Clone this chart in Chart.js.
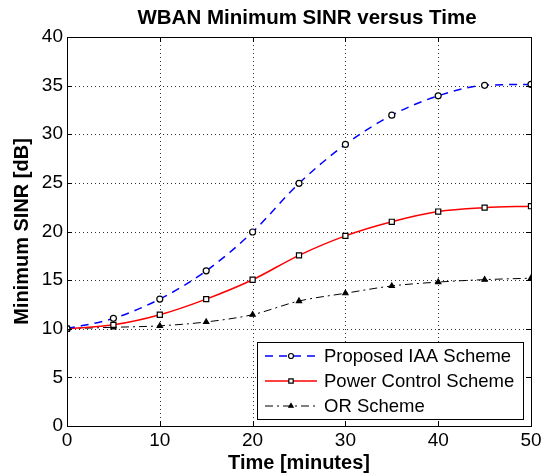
<!DOCTYPE html>
<html>
<head>
<meta charset="utf-8">
<script src="https://cdn.jsdelivr.net/npm/chart.js@4"></script>
<style>
  html, body { margin: 0; padding: 0; background: #fff; }
  #wrap { width: 549px; height: 475px; }
</style>
</head>
<body>
<div id="wrap"><canvas id="c" width="549" height="475"></canvas></div>
<script>
const timeMinutes = [0, 5, 10, 15, 20, 25, 30, 35, 40, 45, 50];
const proposedIAA = [10, 11.07, 13.05, 15.96, 19.95, 24.95, 28.95, 31.96, 33.95, 35.03, 35.12];
const powerControl = [10, 10.4, 11.44, 13.05, 15.04, 17.55, 19.55, 21.0, 22.05, 22.45, 22.6];
const orScheme = [10, 10.15, 10.3, 10.7, 11.45, 12.85, 13.65, 14.4, 14.8, 15.05, 15.2];
const seriesNames = ['Proposed IAA Scheme', 'Power Control Scheme', 'OR Scheme'];
const chartTitle = 'WBAN Minimum SINR versus Time';
const xTitle = 'Time [minutes]';
const yTitle = 'Minimum SINR [dB]';

const FONT = '"Liberation Sans", Arial, Helvetica, sans-serif';

function pts(ys) { return timeMinutes.map((x, i) => ({x: x, y: ys[i]})); }

const styles = [
  {color: '#0000ff', dash: [8, 6], width: 1.5, point: 'circle', r: 3, fill: '#fff'},
  {color: '#ff0000', dash: [], width: 1.5, point: 'rect', r: 3.6, fill: '#fff'},
  {color: '#000000', dash: [8, 4, 2, 4], width: 1, point: 'triangle', r: 3, fill: '#000'}
];
const allData = [proposedIAA, powerControl, orScheme];

const datasets = allData.map((d, i) => ({
  label: seriesNames[i],
  data: pts(d),
  borderColor: styles[i].color,
  borderWidth: styles[i].width,
  borderDash: styles[i].dash,
  cubicInterpolationMode: 'monotone',
  pointStyle: styles[i].point,
  pointRadius: styles[i].r,
  pointBorderColor: '#000',
  pointBorderWidth: 1.2,
  pointBackgroundColor: styles[i].fill,
  fill: false
}));

const gridPlugin = {
  id: 'gridPlugin',
  beforeDatasetsDraw(chart) {
    const ctx = chart.ctx;
    const a = chart.chartArea;
    const xs = chart.scales.x, ys = chart.scales.y;
    ctx.save();
    ctx.strokeStyle = 'rgba(0,0,0,0.8)';
    ctx.lineWidth = 1;
    ctx.setLineDash([1, 3]);
    ctx.beginPath();
    xs.ticks.forEach(t => {
      const px = Math.round(xs.getPixelForValue(t.value)) + 0.5;
      ctx.moveTo(px, a.bottom); ctx.lineTo(px, a.top);
    });
    ys.ticks.forEach(t => {
      const py = Math.round(ys.getPixelForValue(t.value)) + 0.5;
      ctx.moveTo(a.left, py); ctx.lineTo(a.right, py);
    });
    ctx.stroke();
    ctx.restore();
  }
};

const boxPlugin = {
  id: 'boxPlugin',
  afterDraw(chart) {
    const ctx = chart.ctx;
    const a = chart.chartArea;
    const xs = chart.scales.x, ys = chart.scales.y;
    ctx.save();
    ctx.strokeStyle = '#000';
    ctx.lineWidth = 1;
    ctx.setLineDash([]);
    ctx.strokeRect(Math.round(a.left) + 0.5, Math.round(a.top) + 0.5, Math.round(a.right - a.left), Math.round(a.bottom - a.top));
    const L = 5;
    ctx.beginPath();
    xs.ticks.forEach(t => {
      const px = Math.round(xs.getPixelForValue(t.value)) + 0.5;
      ctx.moveTo(px, a.bottom); ctx.lineTo(px, a.bottom - L);
      ctx.moveTo(px, a.top); ctx.lineTo(px, a.top + L);
    });
    ys.ticks.forEach(t => {
      const py = Math.round(ys.getPixelForValue(t.value)) + 0.5;
      ctx.moveTo(a.left, py); ctx.lineTo(a.left + L, py);
      ctx.moveTo(a.right, py); ctx.lineTo(a.right - L, py);
    });
    ctx.stroke();

    // Title
    ctx.fillStyle = '#000';
    ctx.font = 'bold 20.5px ' + FONT;
    ctx.textAlign = 'center';
    ctx.textBaseline = 'middle';
    ctx.fillText(chartTitle, 307, 18);

    // Legend
    const lx = 257, ly = 342, lw = 266, lh = 77;
    ctx.fillStyle = '#fff';
    ctx.fillRect(lx, ly, lw, lh);
    ctx.strokeStyle = '#000';
    ctx.lineWidth = 1;
    ctx.strokeRect(lx + 0.5, ly + 0.5, lw, lh);
    chart.data.datasets.forEach((ds, i) => {
      const y = ly + 14 + i * 25;
      const st = styles[i];
      ctx.save();
      ctx.strokeStyle = st.color;
      ctx.lineWidth = st.width;
      ctx.setLineDash(st.dash);
      ctx.beginPath();
      ctx.moveTo(lx + 8, y); ctx.lineTo(lx + 60, y);
      ctx.stroke();
      ctx.restore();
      ctx.save();
      ctx.setLineDash([]);
      ctx.lineWidth = 1.2;
      ctx.strokeStyle = '#000';
      ctx.fillStyle = st.fill;
      Chart.helpers.drawPoint(ctx, {pointStyle: st.point, radius: st.r - 0.5, borderWidth: 1.2}, lx + 34, y);
      ctx.restore();
      ctx.fillStyle = '#000';
      ctx.font = '18.5px ' + FONT;
      ctx.textAlign = 'left';
      ctx.textBaseline = 'middle';
      ctx.fillText(ds.label, lx + 67, y + 1);
    });
    ctx.restore();
  }
};

new Chart(document.getElementById('c'), {
  type: 'line',
  data: { datasets: datasets },
  options: {
    responsive: false,
    animation: false,
    devicePixelRatio: 1,
    layout: { padding: { top: 37, right: 18, bottom: 0, left: 0 } },
    plugins: { legend: { display: false }, title: { display: false }, tooltip: { enabled: false } },
    scales: {
      x: {
        type: 'linear', min: 0, max: 50,
        ticks: { stepSize: 10, color: '#000', font: { family: FONT, size: 19 }, padding: 3, maxRotation: 0 },
        grid: { display: false, drawTicks: false },
        border: { display: false },
        title: { display: true, text: xTitle, color: '#000', font: { family: FONT, size: 20, weight: 'bold' }, padding: { top: 0, bottom: 0 } },
        afterFit(s) { s.height = 49; }
      },
      y: {
        type: 'linear', min: 0, max: 40,
        ticks: { stepSize: 5, color: '#000', font: { family: FONT, size: 19 }, padding: 4 },
        grid: { display: false, drawTicks: false },
        border: { display: false },
        title: { display: true, text: yTitle, color: '#000', font: { family: FONT, size: 20, weight: 'bold' }, padding: { top: 10, bottom: 0 } },
        afterFit(s) { s.width = 67; }
      }
    }
  },
  plugins: [gridPlugin, boxPlugin]
});
</script>
</body>
</html>
